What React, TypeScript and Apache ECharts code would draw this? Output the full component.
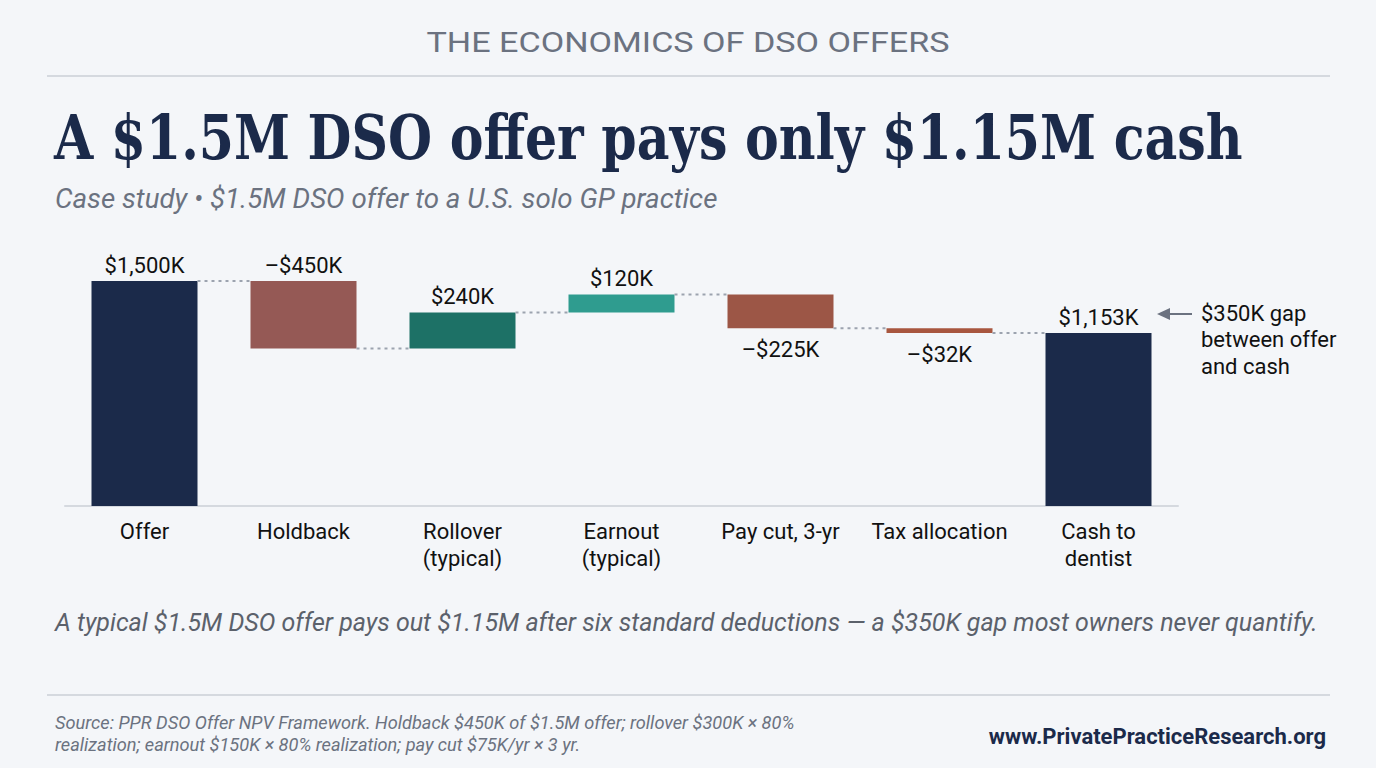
import React, { useEffect, useRef } from 'react';
import * as echarts from 'echarts';

const categories = ['Offer', 'Holdback', 'Rollover\n(typical)', 'Earnout\n(typical)', 'Pay cut, 3-yr', 'Tax allocation', 'Cash to\ndentist'];
// first and last entries are totals, the rest are changes ($K)
const changes = [1500, -450, 240, 120, -225, -32, 1153];
const isTotal = [true, false, false, false, false, false, true];
const labelSide = ['top', 'top', 'top', 'top', 'bottom', 'bottom', 'top'];

const barColors = ['#1b2a4a', '#955955', '#1d7166', '#2f9c8f', '#9c5646', '#a8563f', '#1b2a4a'];
const BG = '#f4f6f9';
const NAVY = '#1b2a4a';
const GRAY = '#6b7280';
const SANS = 'Roboto, "Noto Sans", sans-serif';

const fmt = (v: number) => (v < 0 ? '\u2013' : '') + '$' + Math.abs(v).toLocaleString('en-US') + 'K';

const App: React.FC = () => {
  const chartRef = useRef<HTMLDivElement>(null);

  useEffect(() => {
    if (!chartRef.current) return;
    const chart = echarts.init(chartRef.current, null, { renderer: 'svg' });

    // running levels for the waterfall
    const bases: number[] = [];
    const heights: number[] = [];
    const levels: number[] = [];
    let running = 0;
    changes.forEach((c, i) => {
      if (isTotal[i]) {
        bases.push(0);
        heights.push(c);
        running = c;
      } else {
        const next = running + c;
        bases.push(Math.min(running, next));
        heights.push(Math.abs(c));
        running = next;
      }
      levels.push(running);
    });
    const connectors = levels.slice(0, -1).map((lv, i) => [i, lv]);

    const option: echarts.EChartsOption = {
      animation: false,
      backgroundColor: BG,
      grid: { left: 65, right: 1376 - 1178, top: 281, bottom: 768 - 506, containLabel: false },
      xAxis: {
        type: 'category',
        data: categories,
        axisLine: { lineStyle: { color: '#d5d9df', width: 2 } },
        axisTick: { show: false },
        axisLabel: { color: '#111111', fontFamily: SANS, fontSize: 22, lineHeight: 27, margin: 12, interval: 0 },
      },
      yAxis: {
        type: 'value',
        min: 0,
        max: 1500,
        show: false,
        splitLine: { show: false },
      },
      series: [
        {
          type: 'bar',
          stack: 'wf',
          silent: true,
          itemStyle: { color: 'transparent' },
          data: bases,
          barWidth: 106,
        },
        {
          type: 'bar',
          stack: 'wf',
          barWidth: 106,
          data: heights.map((h, i) => ({
            value: h,
            itemStyle: { color: barColors[i] },
            label: {
              show: true,
              position: labelSide[i] as 'top' | 'bottom',
              distance: labelSide[i] === 'top' ? 5 : 10,
              formatter: fmt(changes[i]),
              color: '#111111',
              fontFamily: SANS,
              fontSize: 22,
            },
          })),
        },
        {
          type: 'custom',
          silent: true,
          z: 5,
          data: connectors,
          encode: { x: 0, y: 1 },
          renderItem: (params: any, api: any) => {
            const p = api.coord([api.value(0), api.value(1)]);
            const half = 53;
            const band = api.size([1, 0])[0];
            return {
              type: 'line',
              shape: { x1: p[0] + half, y1: p[1], x2: p[0] + band - half, y2: p[1] },
              style: { stroke: '#9ca3af', lineWidth: 2, lineDash: [3, 4] },
            };
          },
        },
      ],
      graphic: [
        {
          type: 'text',
          x: 688,
          y: 43,
          scaleX: 1.22,
          style: { text: 'THE ECONOMICS OF DSO OFFERS', font: `400 28px ${SANS}`, fill: GRAY, align: 'center', verticalAlign: 'middle' },
        },
        { type: 'line', shape: { x1: 47, y1: 76, x2: 1330, y2: 76 }, style: { stroke: '#d5d9df', lineWidth: 2 } },
        {
          type: 'text',
          x: 54,
          y: 137,
          scaleX: 0.907,
          style: {
            text: 'A $1.5M DSO offer pays only $1.15M cash',
            font: '700 62px "DejaVu Serif Condensed", "DejaVu Serif", serif',
            fill: NAVY,
            align: 'left',
            verticalAlign: 'middle',
          },
        },
        {
          type: 'text',
          x: 55,
          y: 198,
          style: { text: 'Case study \u2022 $1.5M DSO offer to a U.S. solo GP practice', font: `italic 400 27.7px ${SANS}`, fill: GRAY, align: 'left', verticalAlign: 'middle' },
        },
        { type: 'line', shape: { x1: 1192, y1: 314, x2: 1168, y2: 314 }, style: { stroke: GRAY, lineWidth: 2 } },
        { type: 'polygon', shape: { points: [[1157, 314], [1170, 308], [1170, 320]] }, style: { fill: GRAY } },
        {
          type: 'text',
          x: 1201,
          y: 313,
          style: { text: '$350K gap\nbetween offer\nand cash', font: `400 22px ${SANS}`, lineHeight: 26.5, fill: '#111111', align: 'left', verticalAlign: 'top', padding: [-13, 0, 0, 0] },
        },
        {
          type: 'text',
          x: 55,
          y: 622,
          style: {
            text: 'A typical $1.5M DSO offer pays out $1.15M after six standard deductions \u2014 a $350K gap most owners never quantify.',
            font: `italic 400 25px ${SANS}`,
            fill: '#5b616b',
            align: 'left',
            verticalAlign: 'middle',
          },
        },
        { type: 'line', shape: { x1: 47, y1: 695, x2: 1330, y2: 695 }, style: { stroke: '#d5d9df', lineWidth: 2 } },
        {
          type: 'text',
          x: 55,
          y: 711,
          style: {
            text: 'Source: PPR DSO Offer NPV Framework. Holdback $450K of $1.5M offer; rollover $300K \u00d7 80%\nrealization; earnout $150K \u00d7 80% realization; pay cut $75K/yr \u00d7 3 yr.',
            font: `italic 400 18.2px ${SANS}`,
            lineHeight: 22,
            fill: GRAY,
            align: 'left',
            verticalAlign: 'top',
          },
        },
        {
          type: 'text',
          x: 1326,
          y: 736,
          style: { text: 'www.PrivatePracticeResearch.org', font: `700 22px ${SANS}`, fill: NAVY, align: 'right', verticalAlign: 'middle' },
        },
      ],
    };

    chart.setOption(option);
    return () => {
      chart.dispose();
    };
  }, []);

  return <div ref={chartRef} style={{ position: 'fixed', left: 0, top: 0, width: 1376, height: 768 }} />;
};

export default App;
